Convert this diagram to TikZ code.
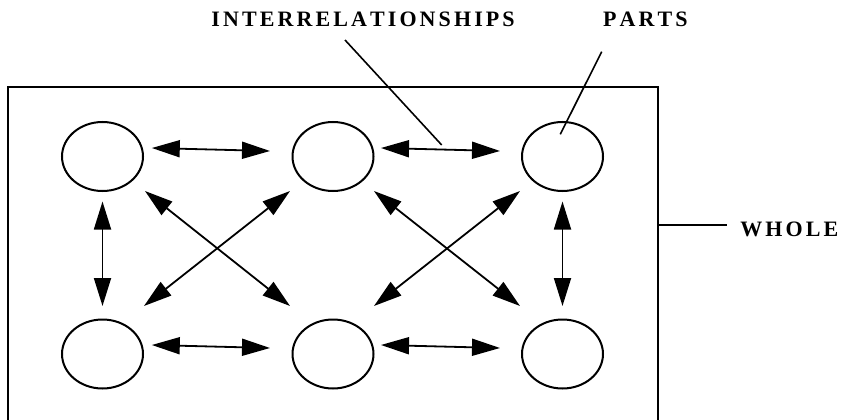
\documentclass[tikz,border=0pt]{standalone}
\usepackage{fontspec}
\setmainfont{Liberation Serif}
\usetikzlibrary{shapes.geometric,arrows.meta,calc}
\def\spacedtext#1{\spacedstep#1\relax}
\def\spacedstep#1{\ifx#1\relax\else#1\hspace{3.1pt}\expandafter\spacedstep\fi}
\begin{document}
\begin{tikzpicture}[x=1pt,y=-1pt,
  part/.style={draw,ellipse,line width=2pt,minimum width=81pt,minimum height=69pt,inner sep=0pt},
  rel/.style={line width=1.8pt,{Triangle[length=28pt,width=17pt]}-{Triangle[length=28pt,width=17pt]}},
  leader/.style={line width=1.6pt},
  lbl/.style={inner sep=0pt,anchor=base west,font=\fontsize{22}{26}\selectfont\bfseries}]
\useasboundingbox (0,0) rectangle (841,420);
% whole
\draw[line width=2pt] (7.5,440) -- (7.5,86.7) -- (657.5,86.7) -- (657.5,440);
\coordinate (wholeedge) at (657.5,225);
\coordinate (wholeend) at (727,225);
\node[lbl] (whole) at (740.2,236.7) {\spacedtext{WHOLE}};
\draw[leader] (wholeedge) -- (wholeend);
% parts
\node[part] (a1) at (102.5,156.5) {};
\node[part] (a2) at (333,156.5) {};
\node[part] (a3) at (562.5,156.5) {};
\node[part] (b1) at (102.5,354) {};
\node[part] (b2) at (333,354) {};
\node[part] (b3) at (562.5,354) {};
% horizontal
\draw[rel] ($(a1)+(49.3,-8.5)$) -- ($(a2)+(-63,-5.5)$);
\draw[rel] ($(a2)+(48,-8.5)$) -- ($(a3)+(-62.5,-5.5)$);
\draw[rel] ($(b1)+(49.3,-9)$) -- ($(b2)+(-63,-6)$);
\draw[rel] ($(b2)+(48,-9)$) -- ($(b3)+(-62.5,-6)$);
% vertical
\draw[rel] ($(a1)+(0,45)$) -- ($(b1)+(0,-48)$);
\draw[rel] ($(a3)+(0,45)$) -- ($(b3)+(0,-48)$);
% diagonals
\draw[rel] ($(a1)+(42.5,34.5)$) -- ($(b2)+(-43,-48)$);
\draw[rel] ($(a2)+(-43,34.5)$) -- ($(b1)+(41.5,-48)$);
\draw[rel] ($(a2)+(41,34.5)$) -- ($(b3)+(-42.5,-48)$);
\draw[rel] ($(a3)+(-42.5,34.5)$) -- ($(b2)+(41,-48)$);
% labels
\node[lbl] (inter) at (211.2,27) {\spacedtext{INTERRELATIONSHIPS}};
\node[lbl] (parts) at (603,27) {\spacedtext{PARTS}};
\coordinate (interstart) at (345,40);
\coordinate (interend) at (441.7,145);
\coordinate (partsstart) at (601.7,51.7);
\coordinate (partsend) at (560.3,134.3);
\draw[leader] (interstart) -- (interend);
\draw[leader] (partsstart) -- (partsend);
\end{tikzpicture}
\end{document}
